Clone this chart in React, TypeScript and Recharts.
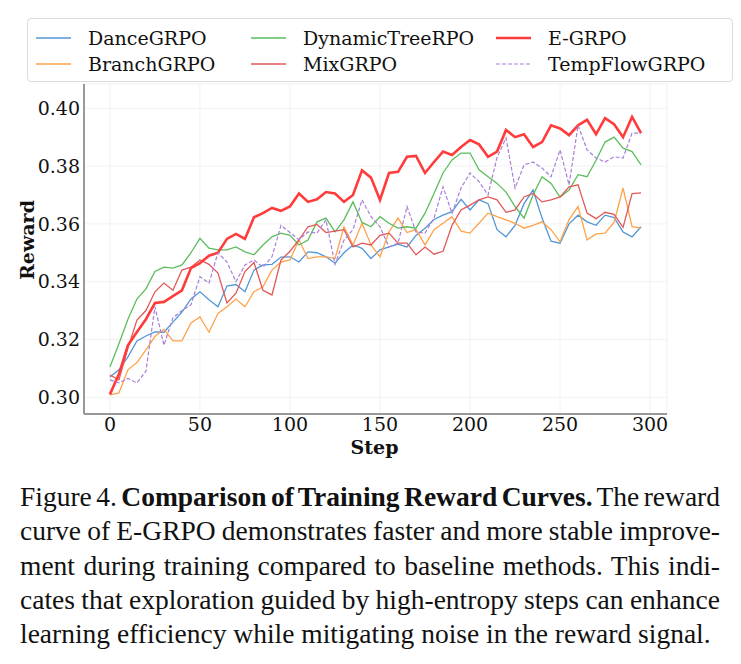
import { LineChart, Line, XAxis, YAxis, CartesianGrid, Label } from 'recharts';

// training steps sampled every 5
const steps = [
  0, 5, 10, 15, 20, 25, 30, 35, 40, 45,
  50, 55, 60, 65, 70, 75, 80, 85, 90, 95,
  100, 105, 110, 115, 120, 125, 130, 135, 140, 145,
  150, 155, 160, 165, 170, 175, 180, 185, 190, 195,
  200, 205, 210, 215, 220, 225, 230, 235, 240, 245,
  250, 255, 260, 265, 270, 275, 280, 285, 290, 295,
];

const danceGRPO = [
  0.307, 0.3095, 0.314, 0.3195, 0.3212, 0.3226, 0.3225, 0.326, 0.3295, 0.334,
  0.3365, 0.3337, 0.3313, 0.3385, 0.339, 0.3365, 0.344, 0.3458, 0.346, 0.3485,
  0.3486, 0.3468, 0.3503, 0.35, 0.3486, 0.3464, 0.35, 0.3527, 0.3515, 0.348,
  0.351, 0.352, 0.353, 0.352, 0.356, 0.3585, 0.3615, 0.363, 0.3642, 0.3685,
  0.3648, 0.3683, 0.367, 0.358, 0.3555, 0.3595, 0.367, 0.3717, 0.362, 0.354,
  0.3533, 0.36, 0.363, 0.3607, 0.3595, 0.363, 0.3622, 0.3572, 0.3555, 0.359,
];

const branchGRPO = [
  0.3008, 0.3015, 0.3095, 0.312, 0.3164, 0.321, 0.3235, 0.3195, 0.3195, 0.3257,
  0.3278, 0.3225, 0.329, 0.3313, 0.334, 0.3313, 0.3365, 0.3382, 0.344, 0.3468,
  0.3475, 0.3544, 0.348, 0.3486, 0.3486, 0.348, 0.359, 0.3527, 0.3602, 0.3527,
  0.3486, 0.3572, 0.362, 0.357, 0.358, 0.3527, 0.358, 0.3602, 0.3625, 0.3575,
  0.3568, 0.3602, 0.3637, 0.3625, 0.3614, 0.3602, 0.3585, 0.3595, 0.3607, 0.358,
  0.3538, 0.3615, 0.366, 0.3544, 0.3565, 0.3568, 0.3605, 0.3724, 0.359, 0.3585,
];

const dynamicTreeRPO = [
  0.3105, 0.3185, 0.327, 0.334, 0.3375, 0.3435, 0.345, 0.3447, 0.3458, 0.35,
  0.355, 0.3516, 0.351, 0.351, 0.352, 0.3503, 0.3493, 0.3527, 0.3555, 0.3568,
  0.356, 0.3527, 0.3544, 0.3607, 0.362, 0.3572, 0.3614, 0.3676, 0.3605, 0.359,
  0.3625, 0.3602, 0.3585, 0.359, 0.3585, 0.3637, 0.3705, 0.3776, 0.3821, 0.3845,
  0.3845, 0.3787, 0.3763, 0.374, 0.371, 0.366, 0.362, 0.37, 0.3763, 0.374,
  0.3693, 0.3717, 0.377, 0.3763, 0.382, 0.3883, 0.39, 0.3862, 0.385, 0.3804,
];

const mixGRPO = [
  0.3077, 0.306, 0.317, 0.3267, 0.33, 0.3365, 0.3395, 0.337, 0.344, 0.345,
  0.3475, 0.346, 0.343, 0.3326, 0.336, 0.3435, 0.3466, 0.337, 0.3354, 0.3475,
  0.3505, 0.3545, 0.359, 0.3598, 0.357, 0.3575, 0.358, 0.352, 0.3533, 0.3527,
  0.356, 0.3568, 0.3533, 0.3533, 0.3493, 0.352, 0.3495, 0.3505, 0.3595, 0.3648,
  0.3665, 0.3683, 0.3693, 0.3683, 0.364, 0.3648, 0.3693, 0.3705, 0.3676, 0.3683,
  0.3693, 0.3728, 0.3735, 0.3637, 0.3618, 0.364, 0.3633, 0.3588, 0.3705, 0.3707,
];

const eGRPO = [
  0.301, 0.308, 0.318, 0.3226, 0.327, 0.3326, 0.333, 0.335, 0.337, 0.3447,
  0.3464, 0.349, 0.35, 0.3548, 0.3565, 0.3548, 0.3623, 0.3637, 0.3655, 0.3645,
  0.366, 0.3705, 0.3676, 0.3685, 0.371, 0.3705, 0.3676, 0.37, 0.3785, 0.376,
  0.3683, 0.3776, 0.378, 0.3832, 0.3835, 0.3776, 0.3814, 0.385, 0.3838, 0.3866,
  0.389, 0.3875, 0.3832, 0.385, 0.3925, 0.39, 0.391, 0.3866, 0.3883, 0.3941,
  0.393, 0.3907, 0.3941, 0.396, 0.391, 0.3966, 0.3945, 0.39, 0.397, 0.3914,
];

const tempFlowGRPO = [
  0.306, 0.305, 0.3065, 0.305, 0.309, 0.3313, 0.318, 0.3275, 0.33, 0.332,
  0.3417, 0.3395, 0.35, 0.3468, 0.34, 0.3458, 0.3475, 0.345, 0.3486, 0.3595,
  0.357, 0.3545, 0.3572, 0.3568, 0.3614, 0.346, 0.3544, 0.358, 0.3683, 0.3625,
  0.359, 0.352, 0.3533, 0.366, 0.3572, 0.3568, 0.362, 0.3728, 0.3637, 0.3724,
  0.3776, 0.3746, 0.37, 0.383, 0.3897, 0.3724, 0.3804, 0.3814, 0.3793, 0.3763,
  0.3856, 0.3735, 0.3941, 0.3856, 0.3828, 0.3814, 0.3832, 0.3828, 0.3914, 0.3914,
];

const xTicks = [0, 50, 100, 150, 200, 250, 300];
const yTicks = [0.3, 0.32, 0.34, 0.36, 0.38, 0.4];

const series = [
  { key: 'dance', name: 'DanceGRPO', values: danceGRPO, color: '#5197d6', width: 1.3 },
  { key: 'branch', name: 'BranchGRPO', values: branchGRPO, color: '#ffa24a', width: 1.3 },
  { key: 'dynamic', name: 'DynamicTreeRPO', values: dynamicTreeRPO, color: '#5bbd5b', width: 1.3 },
  { key: 'mix', name: 'MixGRPO', values: mixGRPO, color: '#e25858', width: 1.3 },
  { key: 'egrpo', name: 'E-GRPO', values: eGRPO, color: '#ff3b3b', width: 2.6 },
  { key: 'tempflow', name: 'TempFlowGRPO', values: tempFlowGRPO, color: '#a97fd8', width: 1.2, dash: '4 2' },
];

const data = steps.map((step, i) => {
  const row: Record<string, number> = { step };
  series.forEach((s) => {
    row[s.key] = s.values[i];
  });
  return row;
});

const serif = '"DejaVu Serif", serif';
const legendCols = [8, 223, 468];
const legendRows = [19, 45];

function ChartLegend() {
  return (
    <div
      style={{
        position: 'absolute',
        left: 19,
        top: 10,
        width: 706,
        height: 64,
        border: '1px solid #dcdcdc',
        borderRadius: 4,
        background: 'rgba(255,255,255,0.85)',
        boxSizing: 'border-box',
        fontFamily: serif,
        fontSize: 19,
        color: '#111',
      }}
    >
      {series.map((s, i) => {
        const left = legendCols[Math.floor(i / 2)];
        const top = legendRows[i % 2];
        return (
          <div key={s.key} style={{ position: 'absolute', left, top: top - 12, height: 24, display: 'flex', alignItems: 'center' }}>
            <svg width={35} height={6} style={{ marginRight: 17 }}>
              <line x1={0} y1={3} x2={35} y2={3} stroke={s.color} strokeWidth={s.width} strokeDasharray={s.dash} />
            </svg>
            <span style={{ whiteSpace: 'nowrap' }}>{s.name}</span>
          </div>
        );
      })}
    </div>
  );
}

const captionLines = [
  <>Figure 4. <b>Comparison of Training Reward Curves.</b> The reward</>,
  <>curve of E-GRPO demonstrates faster and more stable improve-</>,
  <>ment during training compared to baseline methods. This indi-</>,
  <>cates that exploration guided by high-entropy steps can enhance</>,
  <>learning efficiency while mitigating noise in the reward signal.</>,
];

export default function App() {
  return (
    <div style={{ position: 'relative', width: 733, height: 648 }}>
      <LineChart
        width={733}
        height={460}
        data={data}
        margin={{ top: 76, right: 74, bottom: 10, left: 6 }}
      >
        <CartesianGrid stroke="#eeeeee" strokeWidth={0.8} />
        <XAxis
          dataKey="step"
          type="number"
          domain={[-14.4, 309.4]}
          ticks={xTicks}
          allowDataOverflow
          height={44}
          tickLine={false}
          tickSize={4}
          tickMargin={0}
          axisLine={{ stroke: '#7a7a7a', strokeWidth: 1.5 }}
          tick={{ fontSize: 19, fill: '#111', fontFamily: serif }}
        >
          <Label
            content={({ viewBox }: any) => (
              <text
                x={viewBox.x + viewBox.width / 2 - 1}
                y={viewBox.y + 33}
                textAnchor="middle"
                dominantBaseline="central"
                fontFamily={serif}
                fontSize={19}
                fontWeight="bold"
                fill="#111"
              >
                Step
              </text>
            )}
          />
        </XAxis>
        <YAxis
          type="number"
          domain={[0.2942, 0.4084]}
          ticks={yTicks}
          allowDataOverflow
          width={70}
          tickLine={false}
          tickSize={3}
          tickMargin={1}
          tickFormatter={(v: number) => v.toFixed(2)}
          axisLine={{ stroke: '#7a7a7a', strokeWidth: 1.5 }}
          tick={{ fontSize: 19, fill: '#111', fontFamily: serif }}
        >
          <Label
            content={({ viewBox }: any) => {
              const cx = viewBox.x + 13;
              const cy = viewBox.y + viewBox.height / 2 - 9;
              return (
                <text
                  x={cx}
                  y={cy}
                  transform={`rotate(-90 ${cx} ${cy})`}
                  textAnchor="middle"
                  dominantBaseline="central"
                  fontFamily={serif}
                  fontSize={19}
                  fontWeight="bold"
                  fill="#111"
                >
                  Reward
                </text>
              );
            }}
          />
        </YAxis>
        {series.map((s) => (
          <Line
            key={s.key}
            type="linear"
            dataKey={s.key}
            name={s.name}
            stroke={s.color}
            strokeWidth={s.width}
            strokeDasharray={s.dash}
            dot={false}
            activeDot={false}
            isAnimationActive={false}
          />
        ))}
      </LineChart>
      <ChartLegend />
      <div
        style={{
          position: 'absolute',
          left: 12,
          top: 472,
          width: 700,
          fontFamily: '"Liberation Serif", "Times New Roman", serif',
          fontSize: 27.5,
          lineHeight: '34.25px',
          color: '#111',
        }}
      >
        {captionLines.map((line, i) => {
          const last = i === captionLines.length - 1;
          return (
            <div
              key={i}
              style={{
                textAlign: 'justify',
                textAlignLast: last ? 'left' : 'justify',
                wordSpacing: last ? 0 : -4,
                whiteSpace: 'nowrap',
              }}
            >
              {line}
            </div>
          );
        })}
      </div>
    </div>
  );
}
